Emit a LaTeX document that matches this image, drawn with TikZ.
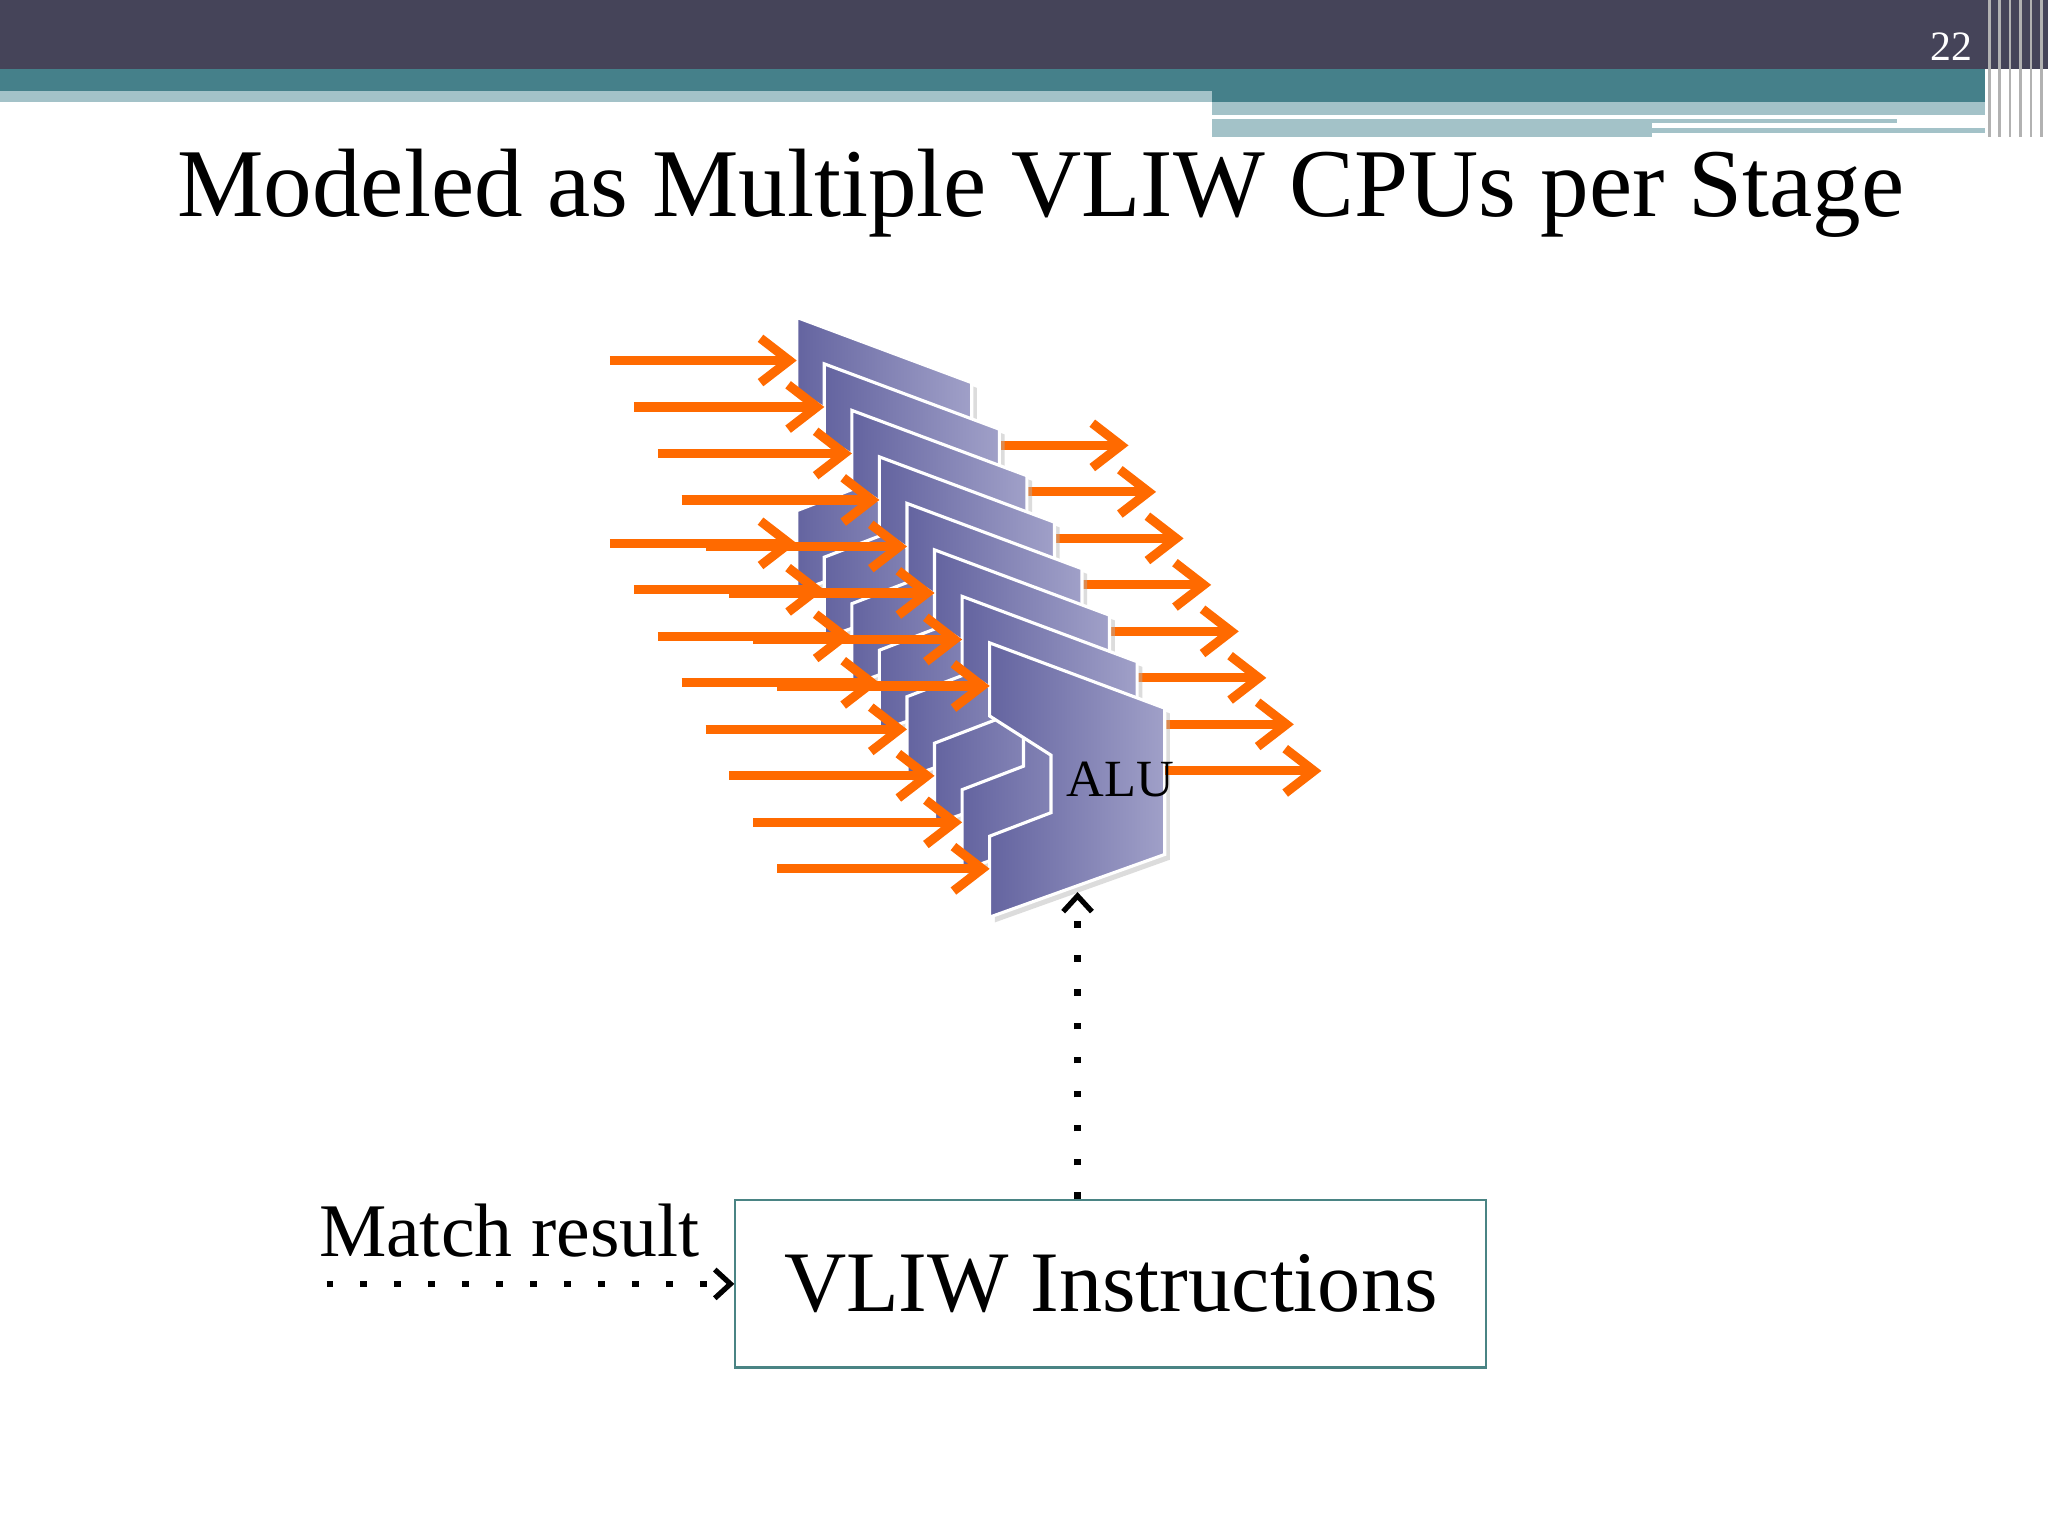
\documentclass[tikz,border=0pt]{standalone}
\usepackage{fontspec}
\setmainfont{Liberation Serif}
\usetikzlibrary{arrows.meta}
\definecolor{hdark}{HTML}{454459}
\definecolor{hteal}{HTML}{45808A}
\definecolor{hlight}{HTML}{A3C2C8}
\definecolor{orng}{HTML}{FF6A00}
\definecolor{pl}{HTML}{6464A0}
\definecolor{pr}{HTML}{A0A0C8}
\definecolor{boxc}{HTML}{4A8484}
\tikzset{
  oarrow/.style={draw=orng,line width=3.5pt,-{Straight Barb[length=11pt,width=17pt,line width=3.5pt]}},
  plate/.style={draw=white,line width=1.2pt,left color=pl,right color=pr},
  dotline/.style={line width=2.6pt,dash pattern=on 2.6pt off 10.4pt,-{Straight Barb[length=6pt,width=11pt,line width=2pt]}},
}
\begin{document}
\begin{tikzpicture}[x=0.5pt,y=-0.5pt]
\useasboundingbox (0,0) rectangle (1568,1176);
\fill[white] (0,0) rectangle (1568,1176);
% header
\fill[hdark] (0,0) rectangle (1568,53);
\fill[hteal] (0,53) rectangle (1520,70);
\fill[hlight] (0,70) rectangle (928,78);
\fill[hteal] (928,70) rectangle (1520,78);
\fill[hlight] (928,78) rectangle (1520,88);
\fill[hlight] (928,91) rectangle (1452,94);
\fill[hlight] (928,94) rectangle (1265,105);
\fill[hlight] (1265,98) rectangle (1520,102);
\foreach \xx in {1522,1530,1538,1546,1554,1562}{\fill[gray!60] (\xx,0) rectangle ++(2,105);}
\node[text=white,font=\fontsize{16}{18}\selectfont] (pnum) at (1494,36) {22};
\node[font=\fontsize{37.2}{42}\selectfont] (title) at (797,148) {Modeled as Multiple VLIW CPUs per Stage};
% ALU stack
\foreach \k in {0,...,7}{
  \pgfmathsetmacro{\ox}{610+21.1*\k}
  \pgfmathsetmacro{\oy}{243+35.6*\k}
  \pgfmathsetmacro{\st}{-143-2.8*\k}
  \begin{scope}[shift={(\ox,\oy)}]
    \coordinate (p\k) at (0,0);
    \fill[black!30,opacity=0.45] (4,4) -- (138,54) -- (138,166) -- (4,214) -- (4,152) -- (51,134) -- (51,90) -- (4,60) -- cycle;
    \path[plate] (0,0) -- (134,50) -- (134,162) -- (0,210) -- (0,148) -- (47,130) -- (47,86) -- (0,56) -- cycle;
    \coordinate (ina\k) at (0,33);
    \coordinate (inb\k) at (0,173);
    \coordinate (outs\k) at (134,98);
    \coordinate (oute\k) at (254,98);
    \coordinate (sa\k) at (\st,33);
    \coordinate (sb\k) at (\st,173);
  \end{scope}
  \draw[oarrow] (sa\k) -- (ina\k);
  \draw[oarrow] (sb\k) -- (inb\k);
  \draw[oarrow] (outs\k) -- (oute\k);
}
\node[font=\fontsize{20}{22}\selectfont] (alu) at (858,597) {ALU};
% instruction box
\node[draw=boxc,line width=0.8pt,minimum width=287.5pt,minimum height=64pt,font=\fontsize{33}{38}\selectfont] (vliw) at (850.5,983) {VLIW Instructions};
\node[font=\fontsize{29}{32}\selectfont] (match) at (390,942) {Match result};
\coordinate (ms) at (250,983);
\coordinate (aluin) at (825,683);
\draw[dotline] (ms) -- (vliw.west);
\draw[dotline] (vliw.north -| aluin) -- (aluin);
\end{tikzpicture}
\end{document}
